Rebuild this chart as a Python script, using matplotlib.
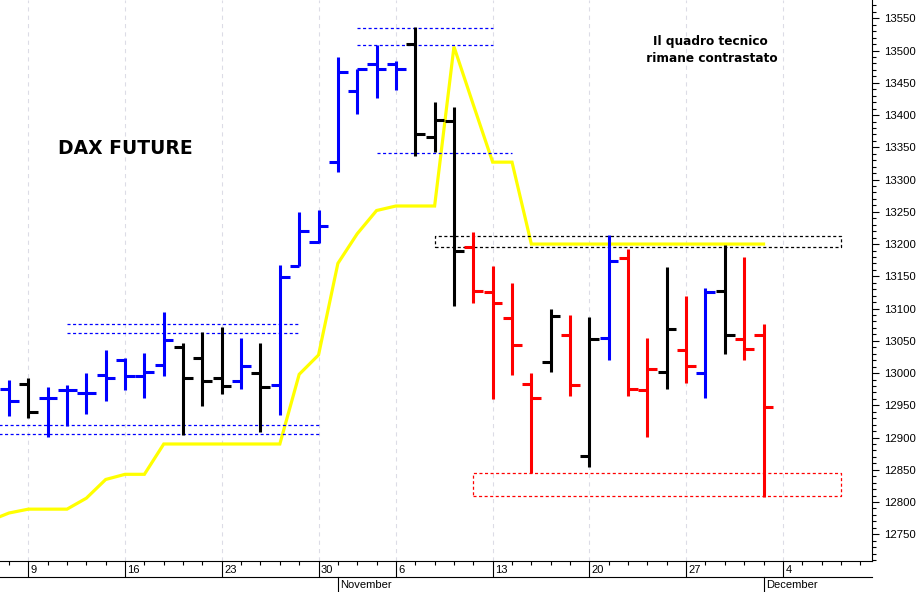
import numpy as np
import pandas as pd
import matplotlib
matplotlib.use("Agg")
import matplotlib.pyplot as plt
from matplotlib import transforms

plt.rcParams["lines.scale_dashes"] = False
plt.rcParams["font.family"] = ["Liberation Sans", "DejaVu Sans"]

# calendario delle sedute (il 31/10/2017 la borsa tedesca era chiusa)
giorni = pd.bdate_range("2017-10-05", "2017-12-08")
giorni = giorni[giorni != pd.Timestamp("2017-10-31")]
pos = np.arange(len(giorni))

# barre OHLC dal 6 ottobre al 1 dicembre
apertura = [12975, 12983, 12961, 12974, 12969, 12997, 13020, 12995, 13012, 13041,
            13024, 12993, 12987, 13000, 12981, 13166, 13203, 13328, 13437, 13479,
            13479, 13510, 13366, 13391, 13195, 13126, 13086, 12983, 13017, 13059,
            12871, 13055, 13178, 12973, 13001, 13035, 13000, 13127, 13053, 13059]
massimo = [12989, 12992, 12978, 12981, 13000, 13035, 13024, 13031, 13094, 13047,
           13063, 13071, 13055, 13046, 13167, 13249, 13253, 13490, 13472, 13508,
           13484, 13536, 13421, 13413, 13219, 13166, 13140, 13000, 13099, 13090,
           13087, 13214, 13193, 13054, 13164, 13119, 13132, 13199, 13180, 13076]
minimo = [12933, 12930, 12901, 12918, 12936, 12957, 12973, 12961, 12995, 12904,
          12949, 12968, 12976, 12908, 12935, 13166, 13202, 13312, 13402, 13426,
          13439, 13337, 13342, 13104, 13108, 12959, 12997, 12845, 13002, 12965,
          12855, 13021, 12964, 12901, 12976, 12985, 12962, 13029, 13020, 12808]
chiusura = [12957, 12939, 12961, 12974, 12969, 12992, 12995, 13002, 13052, 12992,
            12987, 12980, 13011, 12978, 13149, 13220, 13228, 13466, 13471, 13472,
            13472, 13371, 13392, 13190, 13127, 13108, 13043, 12961, 13088, 12981,
            13053, 13173, 12975, 13006, 13068, 13011, 13125, 13059, 13037, 12947]
segnale = "BKBBBBBBBKKKBKBBBBBBBKKKRRRRKRKBRRKRBKRR"

# linea gialla dal 5 ottobre al 1 dicembre
linea_gialla = [12771, 12783, 12789, 12789, 12789, 12806, 12835, 12843, 12843, 12890,
                12890, 12890, 12890, 12890, 12890, 12890, 12998, 13028, 13170, 13216,
                13252, 13259, 13259, 13259, 13506, 13416, 13327, 13327, 13200, 13200,
                13200, 13200, 13200, 13200, 13200, 13200, 13200, 13200, 13200, 13200,
                13200]

# livelli tratteggiati: (dal, al, prezzo)
livelli_blu = [("2017-10-11", "2017-10-27", 13076),
               ("2017-10-11", "2017-10-27", 13062),
               ("2017-10-05", "2017-10-30", 12920),
               ("2017-10-05", "2017-10-30", 12906),
               ("2017-11-02", "2017-11-13", 13535),
               ("2017-11-02", "2017-11-13", 13509),
               ("2017-11-03", "2017-11-14", 13341)]
# rettangoli: (dal, al, prezzo basso, prezzo alto)
zona_nera = ("2017-11-08", "2017-12-07", 13195, 13212)
zona_rossa = ("2017-11-10", "2017-12-07", 12809, 12845)

titolo = "DAX FUTURE"
commento = "Il quadro tecnico\n rimane contrastato"

colori = {"B": "#0000FF", "K": "#000000", "R": "#FF0000"}


def p(data):
    return giorni.get_loc(pd.Timestamp(data))


fig = plt.figure(figsize=(9.2, 5.92), dpi=100)
H = 561.0  # altezza assi in pixel
ax = fig.add_axes([0, 31 / 592, 871.7 / 920, H / 592])

lunedi = pos[giorni.weekday == 0]
ax.set_xticks(lunedi)
ax.set_xticks(pos, minor=True)
ax.set_xticklabels([])
ax.grid(axis="x", which="major", color="#DCDCE6", lw=0.8, linestyle=(0, (3, 3)), zorder=0)

# linea gialla
ax.plot(pos[:len(linea_gialla)], linea_gialla, color="#FFFF00", lw=2.3, zorder=2,
        solid_joinstyle="miter")

# livelli
for d0, d1, prezzo in livelli_blu:
    ax.hlines(prezzo, p(d0), p(d1), color="#0000FF", lw=0.9,
              linestyle=(0, (2.2, 1.8)), zorder=3)
for zona, col in [(zona_nera, "#000000"), (zona_rossa, "#FF0000")]:
    d0, d1, y0, y1 = zona
    ax.plot([p(d0), p(d1), p(d1), p(d0), p(d0)], [y0, y0, y1, y1, y0], color=col,
            lw=0.9, linestyle=(0, (2.2, 1.8)), zorder=3)

# barre
xb = pos[1:1 + len(apertura)]
for x, o, h, l, c, s in zip(xb, apertura, massimo, minimo, chiusura, segnale):
    col = colori[s]
    ax.vlines(x, l, h, color=col, lw=2.2, capstyle="butt", zorder=4)
    ax.hlines(o, x - 0.47, x, color=col, lw=2.2, capstyle="butt", zorder=4)
    ax.hlines(c, x, x + 0.5, color=col, lw=2.2, capstyle="butt", zorder=4)

ax.set_xlim(0.537, 45.59)
ax.set_ylim(12708.6, 13578.4)

ax.yaxis.tick_right()
ax.set_yticks(np.arange(12750, 13551, 50))
ax.set_yticks(np.arange(12710, 13578, 10), minor=True)
ax.tick_params(axis="y", which="major", length=5, width=0.8, pad=4, labelsize=8.2,
               colors="#000000")
ax.tick_params(axis="y", which="minor", length=3, width=0.8)
ax.tick_params(axis="x", which="major", length=11.5, width=0.8, direction="out")
ax.tick_params(axis="x", which="minor", length=3, width=0.8, direction="out")
for lato in ["left", "top"]:
    ax.spines[lato].set_visible(False)
for lato in ["right", "bottom"]:
    ax.spines[lato].set_linewidth(0.8)

# fascia delle date
trans = transforms.blended_transform_factory(ax.transData, ax.transAxes)
trans_txt = transforms.offset_copy(trans, fig=fig, x=2.5, y=0, units="dots")
y_riga = -16 / H
ax.plot([0, 1], [y_riga, y_riga], transform=ax.transAxes, color="black", lw=0.8,
        clip_on=False)
for x in lunedi:
    ax.text(x, -9 / H, str(giorni[x].day), transform=trans_txt, ha="left",
            va="center", fontsize=8)
for mese in ["2017-11", "2017-12"]:
    x = pos[giorni.strftime("%Y-%m") == mese][0]
    ax.plot([x, x], [y_riga, -31 / H], transform=trans, color="black", lw=0.8,
            clip_on=False)
    ax.text(x, -24.5 / H, giorni[x].strftime("%B"), transform=trans_txt, ha="left",
            va="center", fontsize=8)

ax.text(125.5 / 871.7, 1 - 148 / H, titolo, transform=ax.transAxes, ha="center",
        va="center", fontsize=13.5, fontweight="bold", family="DejaVu Sans")
ax.text(710 / 871.7, 1 - 50 / H, commento, transform=ax.transAxes, ha="center",
        va="center", fontsize=8.7, fontweight="bold", family="DejaVu Sans",
        linespacing=1.3)

fig.savefig("out.png", dpi=100)
